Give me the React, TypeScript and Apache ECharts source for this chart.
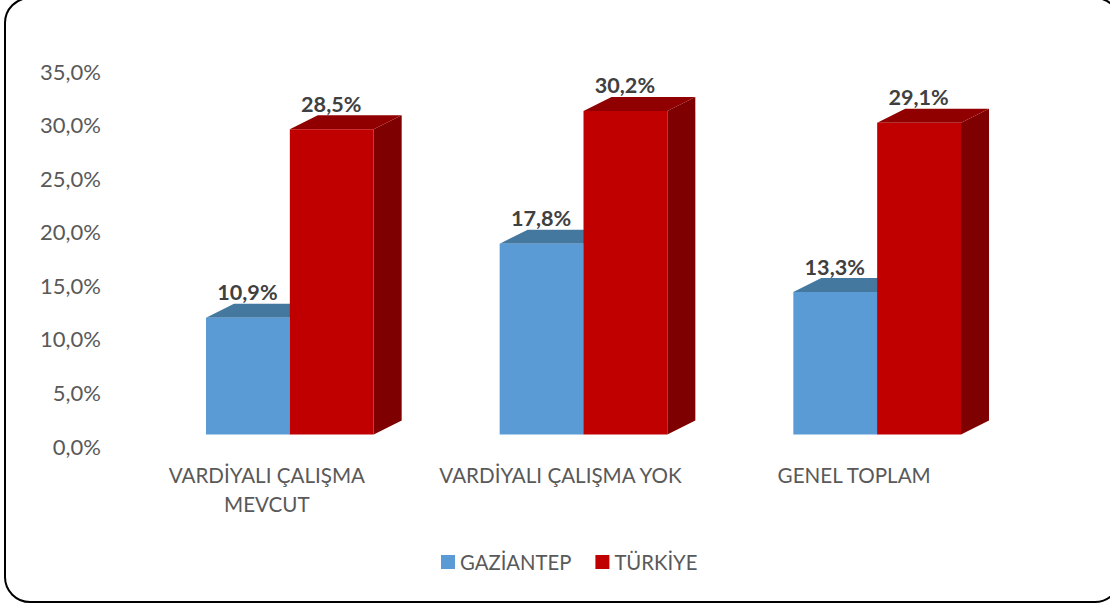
import React, { useEffect, useRef } from "react";
import * as echarts from "echarts";

const categories = ["VARDİYALI ÇALIŞMA\nMEVCUT", "VARDİYALI ÇALIŞMA YOK", "GENEL TOPLAM"];
const gaziantep = [10.9, 17.8, 13.3];
const turkiye = [28.5, 30.2, 29.1];
const yTicks = { min: 0, max: 35, interval: 5 };

const FONT = "Lato";
const GRAY = "#595959";
const fmt = (v: number) => v.toFixed(1).replace(".", ",") + "%";

function bar3d(colors: { front: string; top: string; side: string }, slot: number) {
  return (params: any, api: any) => {
    const idx = api.value(0);
    const val = api.value(1);
    const p = api.coord([idx, val]);
    const base = api.coord([idx, 0]);
    const band = api.size([1, 0])[0];
    const w = band * 0.2855;
    const shiftX = 23;
    const shiftY = -11.5;
    const dx = 28;
    const dy = -14;
    const x0 = p[0] + shiftX + slot * w;
    const x1 = x0 + w;
    const yT = p[1] + shiftY;
    const yB = base[1] + shiftY;
    return {
      type: "group",
      children: [
        {
          type: "polygon",
          shape: { points: [[x1, yT], [x1 + dx, yT + dy], [x1 + dx, yB + dy], [x1, yB]] },
          style: { fill: colors.side },
        },
        {
          type: "polygon",
          shape: { points: [[x0, yT], [x0 + dx, yT + dy], [x1 + dx, yT + dy], [x1, yT]] },
          style: { fill: colors.top },
        },
        {
          type: "rect",
          shape: { x: x0, y: yT, width: w, height: yB - yT },
          style: { fill: colors.front },
        },
        {
          type: "text",
          x: x0 + w / 2 - 0.5,
          y: yT - 25.5,
          style: {
            text: fmt(val),
            fill: "#404040",
            font: `bold 21.6px ${FONT}`,
            align: "center",
            verticalAlign: "middle",
          },
        },
      ],
    };
  };
}

export default function App() {
  const ref = useRef<HTMLDivElement>(null);
  useEffect(() => {
    document.body.style.margin = "0";
    const chart = echarts.init(ref.current!, undefined, { renderer: "svg" });
    chart.setOption({
      animation: false,
      backgroundColor: "#ffffff",
      grid: { left: 120, top: 71, width: 881, height: 375 },
      xAxis: {
        type: "category",
        data: categories,
        axisLine: { show: false },
        axisTick: { show: false },
        axisLabel: { color: GRAY, fontFamily: FONT, fontSize: 20.6, lineHeight: 29, margin: 14, interval: 0 },
      },
      yAxis: {
        type: "value",
        ...yTicks,
        axisLine: { show: false },
        axisTick: { show: false },
        splitLine: { show: false },
        axisLabel: { color: GRAY, fontFamily: FONT, fontSize: 22, margin: 19, verticalAlign: "middle", padding: [0, 0, 3, 0], formatter: (v: number) => fmt(v) },
      },
      legend: {
        left: 441,
        top: 552,
        padding: 0,
        itemWidth: 14,
        itemHeight: 14,
        itemGap: 24,
        icon: "rect",
        textStyle: { color: GRAY, fontFamily: FONT, fontSize: 20.3, padding: [0, 0, 0, 0] },
        data: ["GAZİANTEP", "TÜRKİYE"],
      },
      graphic: [
        {
          type: "rect",
          z: 100,
          shape: { x: 5, y: -2, width: 1115, height: 604, r: 25 },
          style: { fill: "none", stroke: "#000000", lineWidth: 2 },
        },
      ],
      series: [
        {
          name: "GAZİANTEP",
          type: "custom",
          itemStyle: { color: "#5B9BD5" },
          encode: { x: 0, y: 1 },
          renderItem: bar3d({ front: "#5B9BD5", top: "#44789F", side: "#44789F" }, -1),
          data: gaziantep.map((v, i) => [i, v]),
        },
        {
          name: "TÜRKİYE",
          type: "custom",
          itemStyle: { color: "#C00000" },
          encode: { x: 0, y: 1 },
          renderItem: bar3d({ front: "#C00000", top: "#900000", side: "#7F0000" }, 0),
          data: turkiye.map((v, i) => [i, v]),
        },
      ],
    });
    return () => chart.dispose();
  }, []);
  return <div ref={ref} style={{ width: 1110, height: 604 }} />;
}
